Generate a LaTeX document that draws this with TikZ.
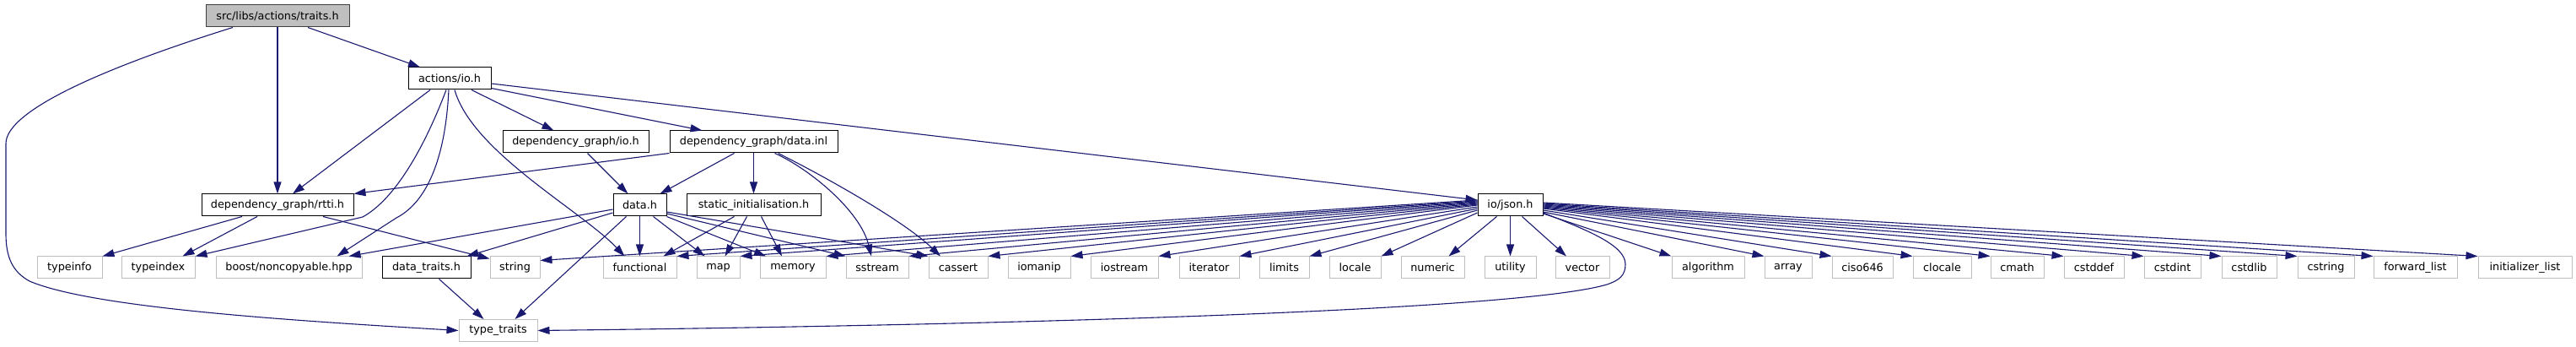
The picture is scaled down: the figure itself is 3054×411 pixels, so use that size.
\documentclass[tikz,border=0pt]{standalone}
\usepackage{fontspec}
\setmainfont{DejaVu Sans}
\usetikzlibrary{arrows.meta}
\definecolor{edgeblue}{HTML}{191970}
\definecolor{sysgray}{HTML}{BFBFBF}
\definecolor{rootgray}{HTML}{404040}

\begin{document}
\begin{tikzpicture}[x=1pt, y=-1pt,
    every node/.style={font=\fontsize{12.8}{15}\selectfont, minimum height=26pt, inner sep=0pt, line width=1pt},
    hdr/.style={draw=black, fill=white},
    syshdr/.style={draw=sysgray, fill=white},
    roothdr/.style={draw=rootgray, fill=sysgray},
    dep/.style={draw=edgeblue, line width=1.1pt, -{Triangle[length=14pt, width=9pt]}}]
  \useasboundingbox (0,0) rectangle (3054,411);

  \node[roothdr, minimum width=170pt] (traits) at (329,19) {src/libs/actions/traits.h};
  \node[hdr, minimum width=98pt] (ioh) at (533,93) {actions/io.h};
  \node[hdr, minimum width=173pt] (dgio) at (682.5,168) {dependency\_graph/io.h};
  \node[hdr, minimum width=199pt] (dginl) at (893.5,168) {dependency\_graph/data.inl};
  \node[hdr, minimum width=180pt] (rtti) at (329,243) {dependency\_graph/rtti.h};
  \node[hdr, minimum width=63pt] (datah) at (758.5,243) {data.h};
  \node[hdr, minimum width=159pt] (statinit) at (893.5,243) {static\_initialisation.h};
  \node[hdr, minimum width=77pt] (json) at (1790.5,243) {io/json.h};
  \node[hdr, minimum width=105pt] (datatraits) at (505.5,317) {data\_traits.h};
  \node[syshdr, minimum width=93pt] (typetraits) at (590.5,391.5) {type\_traits};

  \foreach \n/\x/\w/\lbl in {typeinfo/82.5/77/typeinfo, typeindex/187.5/87/typeindex,
      boost/342.5/173/{boost/noncopyable.hpp}, string/610.5/59/string,
      functional/758.5/87/functional, map/851.5/51/map, memory/940/78/memory,
      sstream/1040/74/sstream, cassert/1136/70/cassert, iomanip/1232/74/iomanip,
      iostream/1333/80/iostream, iterator/1433.5/71/iterator, limits/1522.5/59/limits,
      locale/1606.5/61/locale, numeric/1698.5/75/numeric, utility/1790.5/61/utility,
      vector/1876/64/vector, algorithm/2025/86/algorithm, array/2120/56/array,
      ciso646/2208/72/ciso646, clocale/2302.5/69/clocale, cmath/2391.5/63/cmath,
      cstddef/2482.5/71/cstddef, cstdint/2575.5/67/cstdint, cstdlib/2666.5/65/cstdlib,
      cstring/2757.5/67/cstring, forwardlist/2863.5/99/forward\_list,
      initlist/2993.5/111/initializer\_list}
    \node[syshdr, minimum width=\w pt] (\n) at (\x,317) {\lbl};

  \draw[dep] (traits) -- (rtti);
  \draw[dep] ([xshift=36pt]traits.south) -- ([xshift=-35pt]ioh.north);
  \draw[dep] ([xshift=-53pt]traits.south) .. controls (130,78) and (7,130) .. (7,170)
    -- (7,277) .. controls (7,305) and (15,322) .. (35,333)
    .. controls (110,365) and (350,380) .. (typetraits.west);

  \draw[dep] ([xshift=-23pt]ioh.south) -- ([xshift=18pt]rtti.north);
  \draw[dep] ([xshift=-4pt]ioh.south) .. controls (505,170) and (470,235) .. (430,257) -- (typeindex.north east);
  \draw[dep] ([xshift=-1pt]ioh.south) .. controls (528,190) and (505,240) .. (470,258) -- ([xshift=-30pt]boost.north east);
  \draw[dep] ([xshift=6pt]ioh.south) .. controls (560,180) and (690,250) .. ([xshift=-18pt]functional.north);
  \draw[dep] ([xshift=26pt]ioh.south) -- ([xshift=-26pt]dgio.north);
  \draw[dep] ([yshift=2pt]ioh.south east) -- ([xshift=-61pt]dginl.north);
  \draw[dep] ([yshift=-6pt]ioh.east) -- ([yshift=6pt]json.west);

  \draw[dep] ([xshift=14pt]dgio.south) -- ([xshift=-14pt]datah.north);
  \draw[dep] (dginl.south west) -- (rtti.north east);
  \draw[dep] ([xshift=-23pt]dginl.south) -- ([xshift=24pt]datah.north);
  \draw[dep] (dginl) -- (statinit);
  \draw[dep] ([xshift=25pt]dginl.south) .. controls (960,200) and (1020,250) .. ([xshift=-7pt]sstream.north);
  \draw[dep] ([xshift=29pt]dginl.south) .. controls (970,205) and (1070,260) .. ([xshift=-21pt]cassert.north);

  \draw[dep] ([xshift=-42pt]rtti.south) -- (typeinfo.north east);
  \draw[dep] ([xshift=-24pt]rtti.south) -- ([xshift=29pt]typeindex.north);
  \draw[dep] ([xshift=54pt]rtti.south) -- ([yshift=-3pt]string.north west);

  \draw[dep] ([yshift=-5pt]datah.west) -- ([xshift=-16pt]boost.north east);
  \draw[dep] ([yshift=-9pt]datah.west) -- ([xshift=-5pt]datatraits.north east);
  \draw[dep] ([xshift=-16pt]datah.south) -- ([xshift=20pt]typetraits.north);
  \draw[dep] (datah) -- (functional);
  \draw[dep] ([xshift=16pt]datah.south) -- ([xshift=-16pt]map.north);
  \draw[dep] (datah.south east) -- ([xshift=-32pt]memory.north);
  \draw[dep] ([yshift=-10pt]datah.east) -- (sstream.north west);
  \draw[dep] ([yshift=-8pt]datah.east) -- (cassert.north west);

  \draw[dep] ([xshift=-23pt]statinit.south) -- ([xshift=28pt]functional.north);
  \draw[dep] ([xshift=-8pt]statinit.south) -- ([xshift=8pt]map.north);
  \draw[dep] ([xshift=9pt]statinit.south) -- ([xshift=-13pt]memory.north);

  \draw[dep] ([xshift=15pt]datatraits.south) -- ([xshift=-17pt]typetraits.north);

  \draw[dep] ([yshift=6pt]json.west) -- ([yshift=-5pt]string.north east);
  \foreach \t/\dy in {functional/5, map/4, memory/3, sstream/2, cassert/1, iomanip/0,
      iostream/-2, iterator/-4, limits/-6, locale/-9}
    \draw[dep] ([yshift=\dy pt]json.west) -- (\t.north east);
  \draw[dep] ([xshift=-16pt]json.south) -- ([xshift=19pt]numeric.north);
  \draw[dep] (json) -- (utility);
  \draw[dep] ([xshift=14pt]json.south) -- ([xshift=-19pt]vector.north);
  \foreach \t/\dy in {algorithm/-10, array/-8, ciso646/-6, clocale/-4, cmath/-3, cstddef/-2,
      cstdint/-1, cstdlib/0, cstring/1, forwardlist/2, initlist/3}
    \draw[dep] ([yshift=\dy pt]json.east) -- (\t.north west);
  \draw[dep] ([yshift=-9pt]json.east) .. controls (1880,272) and (1927,290) .. (1927,313)
    .. controls (1927,326) and (1920,332) .. (1905,337)
    .. controls (1800,368) and (1200,385) .. (typetraits.east);
\end{tikzpicture}
\end{document}
